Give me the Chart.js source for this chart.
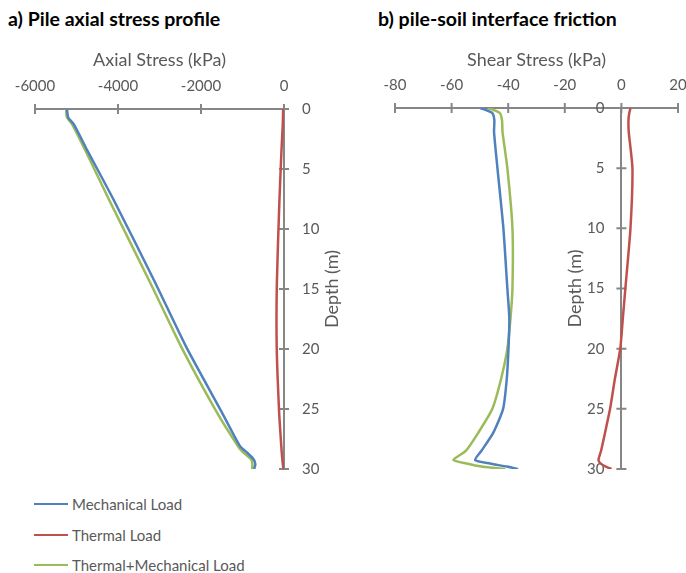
<!DOCTYPE html>
<html>
<head>
<meta charset="utf-8">
<script src="https://cdn.jsdelivr.net/npm/chart.js@4/dist/chart.umd.min.js"></script>
<style>
  body { margin: 0; width: 686px; height: 573px; background: #fff; position: relative; overflow: hidden; font-family: Lato, sans-serif; }
  .title { position: absolute; top: 7px; font-weight: bold; font-size: 19.5px; color: #000; }
  .box { position: absolute; top: 0; width: 343px; height: 480px; }
  #legend { position: absolute; left: 34px; top: 489px; }
  .item { height: 30.5px; display: flex; align-items: center; font-size: 15px; color: #595959; }
  .item span { display: inline-block; width: 34px; height: 2px; margin-right: 4px; }
</style>
</head>
<body>
<div class="title" style="left:8px">a) Pile axial stress profile</div>
<div class="title" style="left:378px">b) pile-soil interface friction</div>
<div class="box" style="left:0"><canvas id="chartA"></canvas></div>
<div class="box" style="left:343px"><canvas id="chartB"></canvas></div>
<div id="legend"></div>
<script>
// series names + colours (Excel 2010 palette)
var seriesNames = ['Mechanical Load', 'Thermal Load', 'Thermal+Mechanical Load'];
var seriesColors = ['#4F81BD', '#C0504D', '#9BBB59'];

// a) axial stress (kPa) vs depth (m)
var axialDepth = [0, 0.7, 1.3, 3.4, 7.6, 14.5, 19.8, 25.3, 28.1, 28.6, 29.2, 29.6, 30];
var axialMech = [-5230, -5200, -5060, -4747, -4100, -3100, -2360, -1494, -1060, -900, -730, -690, -720];
var axialThermal = [-20, -25, -30, -60, -110, -172, -176, -117, -65, -55, -40, -28, -15];
var axialBoth = [-5250, -5230, -5100, -4795, -4210, -3220, -2480, -1614, -1108, -990, -790, -760, -770];

// b) shear stress (kPa) vs depth (m)
var shearDepth = [0, 0.4, 1, 2, 5, 10, 15, 17.5, 20, 22.5, 25, 27, 28.5, 29.25, 29.55, 29.8, 30];
var shearMech = [-49.8, -45.7, -44.9, -45, -43.8, -41.7, -40.3, -39.6, -39.9, -40.5, -41.8, -45.3, -49.5, -51.7, -46.4, -40.5, -36.5];
var shearThermal = [3.2, 2.8, 2.5, 2.6, 3.9, 3.2, 1.4, 0.5, -0.4, -2.3, -4, -5.8, -7.2, -8.1, -7.3, -5.5, -3.5];
var shearBoth = [-47, -43, -42.2, -42, -40.3, -38.5, -38.5, -39.2, -40.3, -42.5, -45.6, -50.6, -55, -59.4, -54.7, -49.5, -41];

var axisGrey = '#868686';
var textGrey = '#595959';

function pts(depths, vals) {
    return vals.map(function (v, i) { return { x: v, y: depths[i] }; });
}

function makeSets(depths, series) {
    return series.map(function (vals, i) {
        return {
            label: seriesNames[i],
            data: pts(depths, vals),
            borderColor: seriesColors[i],
            borderWidth: 2.5,
            pointRadius: 0,
            showLine: true,
            tension: 0.2
        };
    });
}

// cross tick marks, rotated depth title, and (optionally) depth labels left of the axis
var axisExtras = {
    id: 'axisExtras',
    beforeDatasetsDraw(chart, args, opts) {
        var ctx = chart.ctx, area = chart.chartArea;
        var xs = chart.scales.x, ys = chart.scales.y;
        var x0 = xs.getPixelForValue(0);
        ctx.save();
        ctx.strokeStyle = axisGrey;
        ctx.lineWidth = 2;
        ctx.beginPath();
        xs.ticks.forEach(function (t) {
            var px = xs.getPixelForValue(t.value);
            ctx.moveTo(px, area.top - 5);
            ctx.lineTo(px, area.top + 5);
        });
        ys.ticks.forEach(function (t) {
            var py = ys.getPixelForValue(t.value);
            ctx.moveTo(x0 - 5, py);
            ctx.lineTo(x0 + 5, py);
        });
        ctx.stroke();
        ctx.fillStyle = textGrey;
        if (opts.labelsLeft) {
            ctx.font = '15px Lato';
            ctx.textAlign = 'right';
            ctx.textBaseline = 'middle';
            ys.ticks.forEach(function (t) {
                ctx.fillText(String(t.value), x0 - 17, ys.getPixelForValue(t.value));
            });
        }
        ctx.translate(x0 + opts.offset, (area.top + area.bottom) / 2);
        ctx.rotate(-Math.PI / 2);
        ctx.font = '18px Lato';
        ctx.textAlign = 'center';
        ctx.textBaseline = 'middle';
        ctx.fillText(opts.title, 0, 0);
        ctx.restore();
    }
};

function noPad(s) {
    s.paddingLeft = 0; s.paddingRight = 0; s.paddingTop = 0; s.paddingBottom = 0;
}

function scaleOpts(min, max, step, extra) {
    var o = {
        type: 'linear',
        min: min,
        max: max,
        ticks: { stepSize: step, padding: 18, color: textGrey, font: { size: 15 }, callback: function (v) { return v; } },
        grid: { drawOnChartArea: false, drawTicks: false },
        border: { color: axisGrey, width: 2 }
    };
    return Object.assign(o, extra);
}

Chart.defaults.font.family = 'Lato';
Chart.defaults.animation = false;

new Chart(document.getElementById('chartA'), {
    type: 'scatter',
    data: { datasets: makeSets(axialDepth, [axialMech, axialThermal, axialBoth]) },
    plugins: [axisExtras],
    options: {
        responsive: true,
        maintainAspectRatio: false,
        layout: { padding: { left: 35, right: 9, top: 40, bottom: 11 } },
        plugins: {
            legend: { display: false },
            tooltip: { enabled: false },
            axisExtras: { title: 'Depth (m)', offset: 48 }
        },
        scales: {
            x: scaleOpts(-6000, 0, 2000, {
                position: 'top',
                ticks: { stepSize: 2000, padding: 14, color: textGrey, font: { size: 15 }, callback: function (v) { return v; } },
                title: { display: true, text: 'Axial Stress (kPa)', color: textGrey, font: { size: 18 }, padding: { top: 9, bottom: 4 } },
                afterFit: function (s) { s.height = 69; noPad(s); }
            }),
            y: scaleOpts(0, 30, 5, {
                position: 'right',
                reverse: true,
                afterFit: function (s) { s.width = 50; noPad(s); }
            })
        }
    }
});

new Chart(document.getElementById('chartB'), {
    type: 'scatter',
    data: { datasets: makeSets(shearDepth, [shearMech, shearThermal, shearBoth]) },
    plugins: [axisExtras],
    options: {
        responsive: true,
        maintainAspectRatio: false,
        layout: { padding: { left: 52, right: 8, top: 40, bottom: 11 } },
        plugins: {
            legend: { display: false },
            tooltip: { enabled: false },
            axisExtras: { title: 'Depth (m)', offset: -46, labelsLeft: true }
        },
        scales: {
            x: scaleOpts(-80, 20, 20, {
                position: 'top',
                ticks: { stepSize: 20, padding: 14, color: textGrey, font: { size: 15 }, callback: function (v) { return v; } },
                title: { display: true, text: 'Shear Stress (kPa)', color: textGrey, font: { size: 18 }, padding: { top: 9, bottom: 4 } },
                afterFit: function (s) { s.height = 68; noPad(s); }
            }),
            y: scaleOpts(0, 30, 5, {
                position: { x: 0 },
                reverse: true,
                ticks: { stepSize: 5, display: false },
                afterFit: function (s) { noPad(s); }
            })
        }
    }
});

// legend
var legend = document.getElementById('legend');
seriesNames.forEach(function (name, i) {
    var row = document.createElement('div');
    row.className = 'item';
    var swatch = document.createElement('span');
    swatch.style.background = seriesColors[i];
    row.appendChild(swatch);
    row.appendChild(document.createTextNode(name));
    legend.appendChild(row);
});
</script>
</body>
</html>
